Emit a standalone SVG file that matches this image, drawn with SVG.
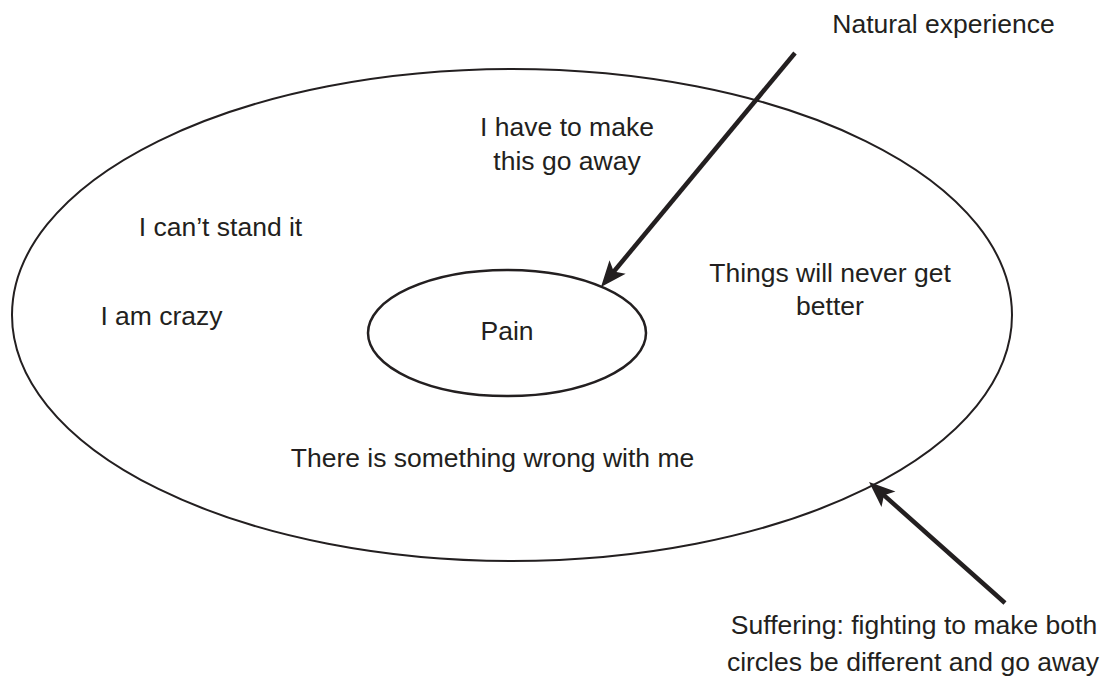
<svg xmlns="http://www.w3.org/2000/svg" width="1106" height="680" viewBox="0 0 1106 680">
  <style>
    .t { font-family: "Liberation Sans", Arial, Helvetica, sans-serif; font-size: 26.5px; fill: #231f20; text-anchor: middle; }
    .ring { fill: none; stroke: #231f20; }
    .arrow { fill: none; stroke: #231f20; stroke-width: 4.5; }
  </style>
  <defs>
    <marker id="head" viewBox="0 0 30 24" refX="14" refY="12" markerWidth="30" markerHeight="24" markerUnits="userSpaceOnUse" orient="auto">
      <path d="M30,12 L4,1.5 L10,12 L4,22.5 Z" fill="#231f20"/>
    </marker>
  </defs>
  <rect width="1106" height="680" fill="#ffffff"/>

  <g id="suffering-circle">
    <ellipse class="ring" cx="512" cy="315" rx="500" ry="246" stroke-width="2"/>
    <text class="t" x="567" y="136">I have to make</text>
    <text class="t" x="567" y="170">this go away</text>
    <text class="t" x="220.5" y="236">I can’t stand it</text>
    <text class="t" x="161.5" y="325">I am crazy</text>
    <text class="t" x="830" y="282">Things will never get</text>
    <text class="t" x="830" y="315">better</text>
    <text class="t" x="492.5" y="467">There is something wrong with me</text>
  </g>

  <g id="pain-circle">
    <ellipse class="ring" cx="507" cy="333" rx="139" ry="63" stroke-width="2.5"/>
    <text class="t" x="507" y="340">Pain</text>
  </g>

  <g id="label-natural">
    <text class="t" x="943.5" y="33">Natural experience</text>
  </g>

  <g id="label-suffering">
    <text class="t" x="914" y="634">Suffering: fighting to make both</text>
    <text class="t" x="913" y="671">circles be different and go away</text>
  </g>

  <g id="connectors">
    <line class="arrow" x1="795" y1="53" x2="611.2" y2="274.7" marker-end="url(#head)"/>
    <line class="arrow" x1="1005" y1="603" x2="881" y2="492.6" marker-end="url(#head)"/>
  </g>
</svg>
